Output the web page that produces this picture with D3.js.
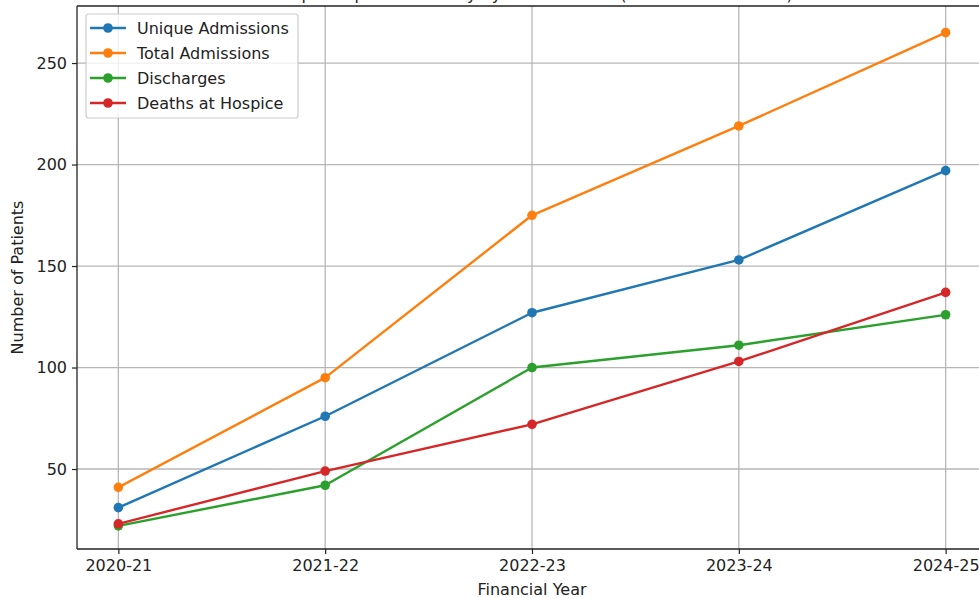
<!DOCTYPE html>
<html>
<head>
<meta charset="utf-8">
<script src="https://cdn.jsdelivr.net/npm/d3@7"></script>
<style>
  html, body { margin: 0; padding: 0; background: #fff; overflow: hidden; }
  svg { display: block; font-family: "DejaVu Sans", sans-serif; }
</style>
</head>
<body>
<svg id="chart" width="979" height="598"></svg>
<script>
const categories = ["2020-21", "2021-22", "2022-23", "2023-24", "2024-25"];
const uniqueAdmissions = [31, 76, 127, 153, 197];
const totalAdmissions = [41, 95, 175, 219, 265];
const discharges = [22, 42, 100, 111, 126];
const deathsAtHospice = [23, 49, 72, 103, 137];
const yTicks = [50, 100, 150, 200, 250];
const yLimits = [10.6, 278.1];
const seriesNames = ["Unique Admissions", "Total Admissions", "Discharges", "Deaths at Hospice"];
const colors = ["#1f77b4", "#ff7f0e", "#2ca02c", "#d62728"];
const titleText = "Hospice Inpatient Activity by Financial Year (2020-21 to 2024-25)";

(function () {
const series = [uniqueAdmissions, totalAdmissions, discharges, deathsAtHospice].map((vals, i) => ({
  name: seriesNames[i], color: colors[i], values: vals
}));

const svg = d3.select("#chart");
const pL = 77, pR = 987, pT = 6, pB = 549;

const x = d3.scalePoint().domain(categories).range([pL + (pR - pL) * 0.05 / 1.1, pR - (pR - pL) * 0.05 / 1.1]);
const y = d3.scaleLinear().domain(yLimits).range([pB, pT]);

// Title (mostly cropped above the frame, as in the reference)
svg.append("text").attr("x", (pL + pR) / 2).attr("y", 0)
  .attr("text-anchor", "middle").attr("font-size", 16).attr("fill", "#222").text(titleText);

// grid
const grid = svg.append("g");
grid.selectAll("line.v").data(categories).join("line")
  .attr("x1", d => x(d)).attr("x2", d => x(d)).attr("y1", pT).attr("y2", pB)
  .attr("stroke", "#b0b0b0").attr("stroke-width", 1.3).attr("opacity", 0.9);
grid.selectAll("line.h").data(yTicks).join("line")
  .attr("x1", pL).attr("x2", pR).attr("y1", d => y(d)).attr("y2", d => y(d))
  .attr("stroke", "#b0b0b0").attr("stroke-width", 1.3).attr("opacity", 0.9);

// lines & markers
const line = d3.line().x((d, i) => x(categories[i])).y(d => y(d));
series.forEach(s => {
  const g = svg.append("g");
  g.append("path").datum(s.values).attr("d", line)
    .attr("fill", "none").attr("stroke", s.color).attr("stroke-width", 2.4)
    .attr("stroke-linejoin", "round").attr("stroke-linecap", "square");
  g.selectAll("circle").data(s.values).join("circle")
    .attr("cx", (d, i) => x(categories[i])).attr("cy", d => y(d)).attr("r", 4.8)
    .attr("fill", s.color);
});

// axes
const xAxis = svg.append("g").attr("transform", `translate(0,${pB})`)
  .call(d3.axisBottom(x).tickSize(5).tickPadding(5));
const yAxis = svg.append("g").attr("transform", `translate(${pL},0)`)
  .call(d3.axisLeft(y).tickValues(yTicks).tickSize(5).tickPadding(5));
[xAxis, yAxis].forEach(a => {
  a.select(".domain").remove();
  a.selectAll("text").attr("font-size", 16).attr("fill", "#222").attr("font-family", "DejaVu Sans, sans-serif");
  a.selectAll("line").attr("stroke", "#222").attr("stroke-width", 1.2);
});
xAxis.selectAll("text").attr("dy", "0.75em");

// spines
const sp = svg.append("g").attr("stroke", "#222").attr("stroke-width", 1.3);
sp.append("line").attr("x1", pL).attr("x2", pL).attr("y1", pT).attr("y2", pB);
sp.append("line").attr("x1", pL).attr("x2", pR).attr("y1", pB).attr("y2", pB);
sp.append("line").attr("x1", pL).attr("x2", pR).attr("y1", pT).attr("y2", pT);
sp.append("line").attr("x1", pR).attr("x2", pR).attr("y1", pT).attr("y2", pB);

// axis labels
svg.append("text").attr("x", (pL + pR) / 2).attr("y", 595).attr("text-anchor", "middle")
  .attr("font-size", 16).attr("fill", "#222").text("Financial Year");
svg.append("text").attr("transform", `translate(23,${(pT + pB) / 2}) rotate(-90)`)
  .attr("text-anchor", "middle").attr("font-size", 16).attr("fill", "#222").text("Number of Patients");

// legend
const lg = svg.append("g");
lg.append("rect").attr("x", 86).attr("y", 14).attr("width", 212).attr("height", 104).attr("rx", 3)
  .attr("fill", "#fff").attr("fill-opacity", 0.8).attr("stroke", "#cccccc").attr("stroke-width", 1.2);
series.forEach((s, i) => {
  const yy = 28 + i * 25;
  lg.append("line").attr("x1", 90).attr("x2", 126).attr("y1", yy).attr("y2", yy)
    .attr("stroke", s.color).attr("stroke-width", 2.4);
  lg.append("circle").attr("cx", 108).attr("cy", yy).attr("r", 4.8).attr("fill", s.color);
  lg.append("text").attr("x", 137).attr("y", yy).attr("dy", "0.36em")
    .attr("font-size", 16).attr("fill", "#222").text(s.name);
});
})();
</script>
</body>
</html>
